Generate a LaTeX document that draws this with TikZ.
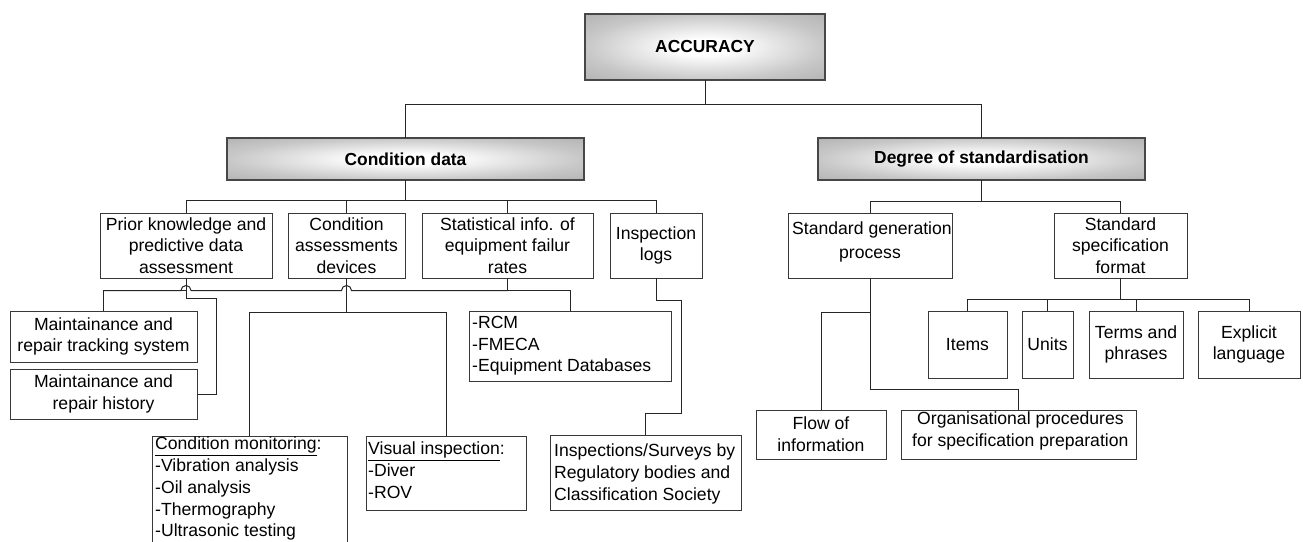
\documentclass[tikz,border=0pt]{standalone}
\usepackage{fontspec}
\setmainfont{Liberation Sans}

% light centre fading to grey at the rim, for the three headline boxes
\pgfdeclareradialshading{boxglow}{\pgfpointorigin}{%
  color(0bp)=(white); color(6bp)=(white); color(25bp)=(black!22);
  color(36bp)=(black!30); color(50bp)=(black!30)}

% box given by its left, top, right and bottom edges
\newcommand\placebox[6][]{%
  \node[plainbox,#1,minimum width=#5pt-#3pt,minimum height=#6pt-#4pt]
    (#2) at ({(#3+#5)/2},{(#4+#6)/2}) {};}

\tikzset{
  plainbox/.style={draw=black!78,line width=1pt,inner sep=0pt,outer sep=0pt,
                   rectangle,fill=white},
  headbox/.style={draw=black!72,line width=1.3pt,shading=boxglow},
  conn/.style={draw=black!85,line width=1pt},
  txt/.style={font=\fontsize{17.6}{21.7}\selectfont,align=center,inner sep=0pt},
  headtxt/.style={font=\fontsize{17.4}{21}\selectfont\bfseries,inner sep=0pt},
  listtxt/.style={txt,align=left,anchor=north west},
}

\begin{document}
\begin{tikzpicture}[x=1pt,y=-1pt]
\useasboundingbox (0,0) rectangle (1303,541);
\fill[white] (0,0) rectangle (1303,541);
\clip (0,0) rectangle (1303,541);

% ---- headline boxes
\placebox[headbox]{acc}{585}{14}{825}{80}
\placebox[headbox]{cond}{227}{138}{584}{180}
\placebox[headbox]{deg}{818}{138}{1145}{180}
\node[headtxt] at (acc) {ACCURACY};
\node[headtxt] at (cond) {Condition data};
\node[headtxt] at (deg) {Degree of standardisation};

% ---- condition data branch
\placebox{prior}{100}{213}{272}{278}
\placebox{cad}{288}{213}{405}{278}
\placebox{stat}{422}{213}{593}{278}
\placebox{ilog}{610}{213}{702}{278}
\placebox{track}{10}{311}{197}{362}
\placebox{hist}{10}{369}{197}{419}
\placebox{rcm}{469}{311}{671}{381}
\placebox{cmon}{152}{436}{347}{570}
\placebox{vis}{366}{436}{526}{510}
\placebox{isurv}{550}{435}{741}{510}

\node[txt] at (prior) {Prior knowledge and\\predictive data\\assessment};
\node[txt] at (cad) {Condition\\assessments\\devices};
\node[txt] at (stat) {Statistical info. of\\equipment failur\\rates};
\node[txt] at (ilog) {Inspection\\logs};
\node[txt] at (track) {Maintainance and\\repair tracking system};
\node[txt] at (hist) {Maintainance and\\repair history};
\node[listtxt] at (472,316) {-RCM\\-FMECA\\-Equipment Databases};
\node[listtxt] at (155,437) {\underline{Condition monitoring}:\\-Vibration analysis\\-Oil analysis\\-Thermography\\-Ultrasonic testing};
\node[listtxt] at (368,442) {\underline{Visual inspection}:\\-Diver\\-ROV};
\node[listtxt] at (554,444) {Inspections/Surveys by\\Regulatory bodies and\\Classification Society};

% ---- standardisation branch
\placebox{sgen}{788}{213}{952}{278}
\placebox{sspec}{1054}{213}{1187}{278}
\placebox{items}{928}{311}{1007}{378}
\placebox{units}{1022}{311}{1073}{378}
\placebox{terms}{1089}{311}{1183}{378}
\placebox{expl}{1198}{311}{1300}{378}
\placebox{flow}{756}{410}{886}{459}
\placebox{org}{901}{410}{1136}{459}

\node[txt,anchor=north west] at (792,222) {Standard generation};
\node[txt] at (870,256) {process};
\node[txt] at (sspec) {Standard\\specification\\format};
\node[txt] at (items) {Items};
\node[txt] at (units) {Units};
\node[txt] at (terms) {Terms and\\phrases};
\node[txt] at (expl) {Explicit\\language};
\node[txt] at (flow) {Flow of\\information};
\node[txt,align=left,anchor=north west] at (912,412) {\hspace*{5pt}Organisational procedures\\for specification preparation};

% ---- connectors: top levels
\draw[conn] (acc.south) -- ++(0,24) coordinate (aj) -| (cond.north);
\draw[conn] (aj) -| (deg.north);

\draw[conn] (cond.south) -- ++(0,20) coordinate (cj);
\draw[conn] (cj) -| (prior.north);
\draw[conn] (cj) -| (cad.north);
\draw[conn] (cj) -| (stat.north);
\draw[conn] (cj) -| (ilog.north);

\draw[conn] (deg.south) -- ++(0,21) coordinate (dj);
\draw[conn] (dj) -| (sgen.north);
\draw[conn] (dj) -| (sspec.north);

% ---- connectors: condition data details
\draw[conn] (prior.south) -- ++(0,12.5) -| (track.north);
\draw[conn] (prior.south) -- ++(0,20) -- ++(30,0) |- (hist.east);
\draw[conn] (stat.south) -- ++(0,12.5) coordinate (sj) -| (rcm.north);
\draw[conn] (sj) -- ([xshift=5pt]cad.south |- sj)
  arc[start angle=0,end angle=-180,radius=5]
  -- ([xshift=5pt]prior.south |- sj)
  arc[start angle=0,end angle=-180,radius=5]
  -- (track.north |- sj);
\draw[conn] (cad.south) -- ++(0,34) coordinate (vj);
\draw[conn] (vj) -| (cmon.north);
\draw[conn] (vj) -| (vis.north);
\draw[conn] (ilog.south) -- ++(0,22) -| ++(25,113) -| (isurv.north);

% ---- connectors: standardisation details
\draw[conn] (sspec.south) -- ++(0,21) coordinate (fj);
\draw[conn] (fj) -| (items.north);
\draw[conn] (fj) -| (units.north);
\draw[conn] (fj) -| (terms.north);
\draw[conn] (fj) -| (expl.north);
\draw[conn] (sgen.south) -- ++(0,111) -| (org.north);
\draw[conn] (sgen.south) -- ++(0,34) -| (flow.north);
\end{tikzpicture}
\end{document}
